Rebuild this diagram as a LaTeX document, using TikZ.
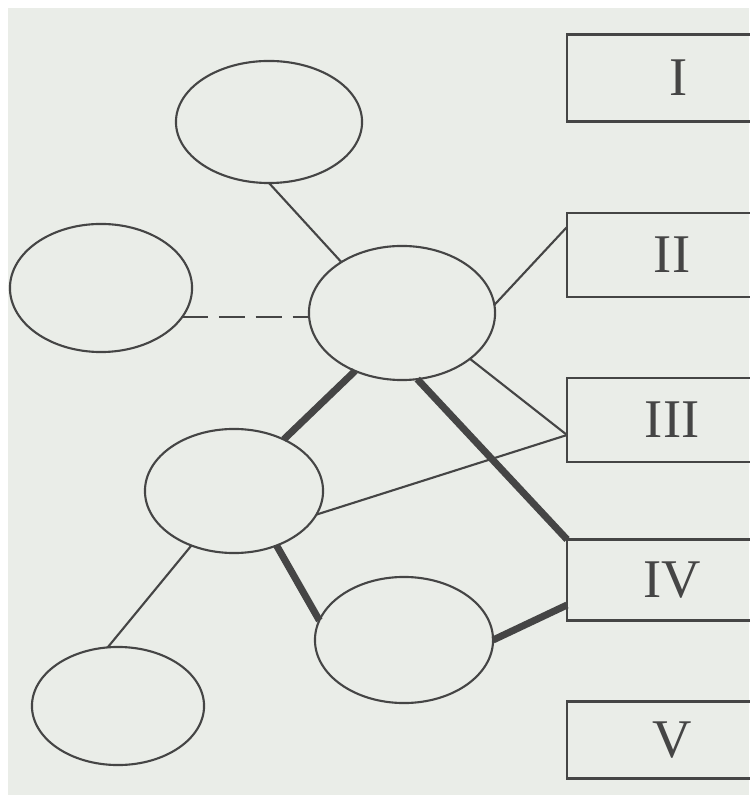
\documentclass[tikz,border=0pt]{standalone}
\usepackage{fontspec}
\setmainfont{Liberation Serif}
\usetikzlibrary{shapes.geometric}
\definecolor{paper}{HTML}{EAEDE8}
\definecolor{ink}{HTML}{454545}
\begin{document}
\begin{tikzpicture}[x=0.01cm,y=-0.01cm,
                        oval/.style={ellipse,draw=ink,line width=0.6pt,inner sep=0pt,outer sep=0pt},
                        slot/.style={rectangle,draw=ink,line width=0.6pt,anchor=west,minimum width=2.1cm,inner sep=0pt,outer sep=0pt,font=\fontsize{15.5}{16}\selectfont,text=ink},
                        thin/.style={ink,line width=0.6pt},
                        heavy/.style={ink,line width=2pt}]
                        \useasboundingbox (0,0) rectangle (749,795);
                        \fill [white] (0,0) rectangle (749,795);
                        \fill [paper] (8,8) rectangle (749,795);
                        \node [oval,minimum width=1.86cm,minimum height=1.22cm] (top) at (269,122) {};
                        \node [oval,minimum width=1.82cm,minimum height=1.28cm] (left) at (101,288) {};
                        \node [oval,minimum width=1.86cm,minimum height=1.34cm] (centre) at (402,313) {};
                        \node [oval,minimum width=1.78cm,minimum height=1.24cm] (middle) at (234,491) {};
                        \node [oval,minimum width=1.78cm,minimum height=1.26cm] (lower) at (404,640) {};
                        \node [oval,minimum width=1.72cm,minimum height=1.18cm] (bottom) at (118,706) {};
                        \node [slot,minimum height=0.87cm] (boxone) at (567,78) {\hspace{0.12cm}I};
                        \node [slot,minimum height=0.84cm] (boxtwo) at (567,255) {II};
                        \node [slot,minimum height=0.84cm] (boxthree) at (567,420) {III};
                        \node [slot,minimum height=0.81cm] (boxfour) at (567,580) {IV};
                        \node [slot,minimum height=0.77cm] (boxfive) at (567,740) {V};
                        \draw [thin] (top.-90)--(centre.140);
                        \draw [thin,dash pattern=on 7.4pt off 3.1pt] (left.-20)--(left.-20 -| centre.west);
                        \draw [thin] (centre.5)--([yshift=0.28cm]boxtwo.west);
                        \draw [thin] (centre.-34)--([yshift=-0.15cm]boxthree.west);
                        \draw [thin] (middle.-16)--([yshift=-0.15cm]boxthree.west);
                        \draw [thin] (middle.-128)--(bottom.100);
                        \draw [heavy] (centre.-129)--(middle.46);
                        \draw [heavy] (centre.-77)--(boxfour.north west);
                        \draw [heavy] (middle.-52)--(lower.167);
                        \draw [heavy] (lower.east)--([yshift=-0.25cm]boxfour.west);
                    \end{tikzpicture}
\end{document}
